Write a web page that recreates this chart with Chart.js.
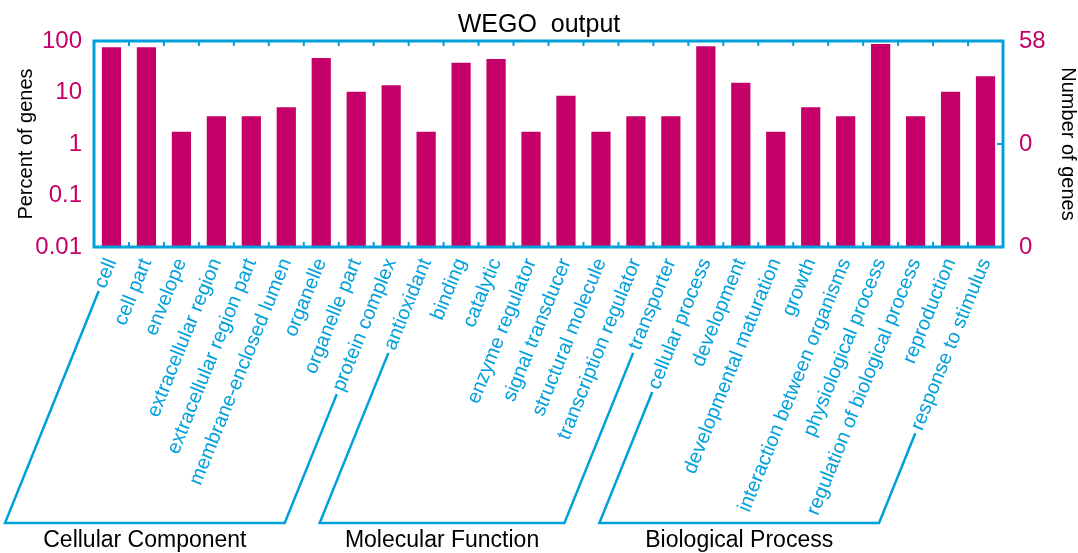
<!DOCTYPE html>
<html>
<head>
<meta charset="utf-8">
<script src="https://cdn.jsdelivr.net/npm/chart.js@4"></script>
<style>
  html, body { margin: 0; padding: 0; background: #fff; }
</style>
</head>
<body>
<canvas id="wego" width="1078" height="553"></canvas>
<script>
// GO terms along the x axis
const categories = [
    "cell", "cell part", "envelope", "extracellular region", "extracellular region part",
    "membrane-enclosed lumen", "organelle", "organelle part", "protein complex",
    "antioxidant", "binding", "catalytic", "enzyme regulator", "signal transducer",
    "structural molecule", "transcription regulator", "transporter",
    "cellular process", "development", "developmental maturation", "growth",
    "interaction between organisms", "physiological process",
    "regulation of biological process", "reproduction", "response to stimulus"
];
// Percent of genes per term
const percentGenes = [
    75.9, 75.9, 1.72, 3.45, 3.45, 5.17, 46.6, 10.3, 13.8,
    1.72, 37.9, 44.8, 1.72, 8.62, 1.72, 3.45, 3.45,
    79.3, 15.5, 1.72, 5.17, 3.45, 87.9, 3.45, 10.3, 20.7
];
const totalGenes = 58;
const percentTicks = [0.01, 0.1, 1, 10, 100];
const countTicks = [0.01, 1, 100];
const groupNames = ["Cellular Component", "Molecular Function", "Biological Process"];
const groupFirst = [0, 9, 17];
const groupLast = [8, 16, 25];

const BLUE = "#00a0dc";
const MAGENTA = "#c50068";
const FONT = "'Liberation Sans', Arial, Helvetica, sans-serif";
const bracketY = 523;

// Frame, inward tick marks and the group brackets under the labels
const framePlugin = {
    id: "frame",
    afterDraw(chart) {
        const { ctx, chartArea: a, scales: { x, y } } = chart;
        ctx.save();
        ctx.strokeStyle = BLUE;
        ctx.lineWidth = 3;
        ctx.strokeRect(a.left, a.top, a.right - a.left, a.bottom - a.top);

        ctx.lineWidth = 2;
        ctx.beginPath();
        for (let i = 0; i < categories.length - 1; i++) {
            const bx = (x.getPixelForValue(i) + x.getPixelForValue(i + 1)) / 2;
            ctx.moveTo(bx, a.top); ctx.lineTo(bx, a.top + 5);
            ctx.moveTo(bx, a.bottom); ctx.lineTo(bx, a.bottom - 5);
        }
        const ty = y.getPixelForValue(1);
        ctx.moveTo(a.right, ty); ctx.lineTo(a.right - 6, ty);
        ctx.stroke();

        // brackets
        const items = x.getLabelItems(a);
        const r = x.labelRotation * Math.PI / 180;
        ctx.font = "20px " + FONT;
        const startOf = (i) => {
            const it = items[i];
            const [tx, tyy] = it.options.translation;
            const w = ctx.measureText(categories[i]).width + 4;
            const off = it.textOffset || 0;
            const sx = tx - w * Math.cos(r) + off * Math.sin(r);
            const sy = tyy + w * Math.sin(r) + off * Math.cos(r);
            const bx = sx - (bracketY - sy) * Math.cos(r) / Math.sin(r);
            return { sx, sy, bx };
        };
        ctx.lineWidth = 2.5;
        ctx.fillStyle = "#000";
        ctx.textAlign = "center";
        ctx.textBaseline = "middle";
        groupNames.forEach((name, g) => {
            const p = startOf(groupFirst[g]);
            const q = startOf(groupLast[g]);
            ctx.beginPath();
            ctx.moveTo(p.sx, p.sy);
            ctx.lineTo(p.bx, bracketY);
            ctx.lineTo(q.bx, bracketY);
            ctx.lineTo(q.sx, q.sy);
            ctx.stroke();
            ctx.font = "23px " + FONT;
            ctx.fillText(name, (p.bx + q.bx) / 2, bracketY + 18);
            ctx.font = "20px " + FONT;
        });
        ctx.restore();
    }
};

new Chart(document.getElementById("wego"), {
    type: "bar",
    data: {
        labels: categories,
        datasets: [{
            data: percentGenes,
            backgroundColor: MAGENTA,
            borderWidth: 0,
            barPercentage: 0.55,
            categoryPercentage: 1.0
        }]
    },
    options: {
        responsive: false,
        animation: false,
        devicePixelRatio: 1,
        layout: { padding: 0 },
        plugins: {
            legend: { display: false },
            tooltip: { enabled: false },
            title: {
                display: true,
                text: "WEGO  output",
                color: "#000",
                font: { family: FONT, size: 25, weight: "normal", lineHeight: 1 },
                padding: { top: 13, bottom: 3 }
            }
        },
        scales: {
            x: {
                type: "category",
                offset: true,
                grid: { display: false },
                border: { display: false },
                ticks: {
                    color: BLUE,
                    font: { family: FONT, size: 20 },
                    minRotation: 68,
                    maxRotation: 68,
                    autoSkip: false,
                    padding: 0
                },
                afterFit: s => { s.height = 306; }
            },
            y: {
                type: "logarithmic",
                position: "left",
                min: 0.01,
                max: 100,
                grid: { display: false },
                border: { display: false },
                afterBuildTicks: s => { s.ticks = percentTicks.map(v => ({ value: v })); },
                ticks: {
                    color: MAGENTA,
                    font: { family: FONT, size: 24 },
                    padding: 4,
                    callback: v => String(v)
                },
                title: {
                    display: true,
                    text: "Percent of genes",
                    color: "#000",
                    font: { family: FONT, size: 20 },
                    padding: { top: 14, bottom: 0 }
                },
                afterFit: s => { s.width = 94; }
            },
            y2: {
                type: "logarithmic",
                position: "right",
                min: 0.01,
                max: 100,
                grid: { display: false },
                border: { display: false },
                afterBuildTicks: s => { s.ticks = countTicks.map(v => ({ value: v })); },
                ticks: {
                    color: MAGENTA,
                    font: { family: FONT, size: 24 },
                    padding: 8,
                    callback: v => String(Math.floor(v * totalGenes / 100))
                },
                title: {
                    display: true,
                    text: "Number of genes",
                    color: "#000",
                    font: { family: FONT, size: 20, lineHeight: 1 },
                    padding: { top: 0, bottom: 0 }
                },
                afterFit: s => { s.width = 75; }
            }
        }
    },
    plugins: [framePlugin]
});
</script>
</body>
</html>
